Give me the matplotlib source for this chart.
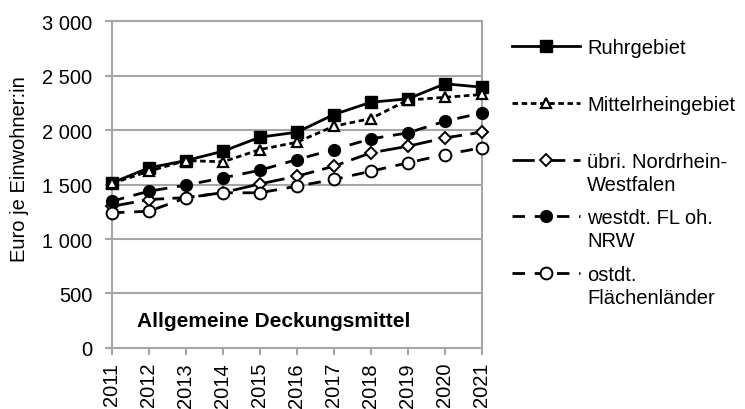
import matplotlib
matplotlib.use("Agg")
import matplotlib.pyplot as plt
from matplotlib.ticker import FuncFormatter

plt.rcParams['font.family'] = ['Liberation Sans', 'DejaVu Sans']

years = [2011, 2012, 2013, 2014, 2015, 2016, 2017, 2018, 2019, 2020, 2021]
ruhr = [1515, 1653, 1720, 1805, 1934, 1980, 2142, 2255, 2286, 2424, 2393]
mittelrhein = [1510, 1622, 1720, 1708, 1821, 1888, 2035, 2105, 2275, 2300, 2326]
nrw_rest = [1300, 1362, 1380, 1425, 1506, 1576, 1668, 1791, 1851, 1928, 1980]
west = [1347, 1439, 1494, 1561, 1631, 1729, 1821, 1919, 1974, 2081, 2157]
ost = [1240, 1255, 1378, 1424, 1424, 1485, 1546, 1622, 1699, 1775, 1837]

labels_first = ["Ruhrgebiet", "Mittelrheingebiet", "übri. Nordrhein-",
                "westdt. FL oh.", "ostdt."]
labels_second = ["", "", "Westfalen", "NRW", "Flächenländer"]

fs = 14.5

fig = plt.figure(figsize=(7.45, 4.10), dpi=100)
ax = fig.add_axes([0.1503, 0.1488, 0.4966, 0.7975])

grey = '#a6a6a6'
common = dict(color='black', lw=2, clip_on=False, zorder=3)
lines = []
lines += ax.plot(years, ruhr, marker='s', ms=8, mfc='black', mec='black',
                 ls='-', **common)
lines += ax.plot(years, mittelrhein, marker='^', ms=7.5, mfc='white', mec='black',
                 mew=1.6, dashes=(2, 1.3), **common)
lines += ax.plot(years, nrw_rest, marker='D', ms=6, mfc='white', mec='black',
                 mew=1.4, dashes=(8, 3), **common)
lines += ax.plot(years, west, marker='o', ms=8.5, mfc='black', mec='black',
                 dashes=(4.5, 3.5), **common)
lines += ax.plot(years, ost, marker='o', ms=8.5, mfc='white', mec='black',
                 mew=1.4, dashes=(4.5, 3.5), **common)

ax.set_xlim(2011, 2021)
ax.set_ylim(0, 3000)
ax.set_yticks(range(0, 3001, 500))
ax.yaxis.set_major_formatter(FuncFormatter(lambda v, p: f"{int(v):,}".replace(",", " ")))
ax.set_xticks(years)
ax.set_xticklabels([str(y) for y in years], rotation=90)
ax.tick_params(axis='both', labelsize=fs, color=grey, width=1.5, length=5)
ax.tick_params(axis='y', pad=9)
ax.tick_params(axis='x', pad=5)
ax.grid(axis='y', color=grey, lw=1.5, zorder=0)
for s in ax.spines.values():
    s.set_color(grey)
    s.set_linewidth(1.5)
ax.set_ylabel("Euro je Einwohner:in", fontsize=fs)
ax.yaxis.set_label_coords(-0.225, 0.55)

ax.text(0.438, 0.083, "Allgemeine Deckungsmittel", transform=ax.transAxes,
        ha='center', va='center', fontsize=15, fontweight='bold')

leg = fig.legend(lines, labels_first, loc='upper left',
                 bbox_to_anchor=(0.687, 0.904), frameon=False, fontsize=fs,
                 handlelength=3.4, handletextpad=0.35, labelspacing=1.87,
                 borderpad=0, borderaxespad=0)

fig.canvas.draw()
inv = fig.transFigure.inverted()
for txt, extra in zip(leg.get_texts(), labels_second):
    if not extra:
        continue
    bb = txt.get_window_extent()
    x0, y0 = inv.transform((bb.x0, bb.y0))
    fig.text(x0, y0 - 23 / 410, extra, fontsize=fs, ha='left', va='bottom')

fig.savefig("out.png", dpi=100)
